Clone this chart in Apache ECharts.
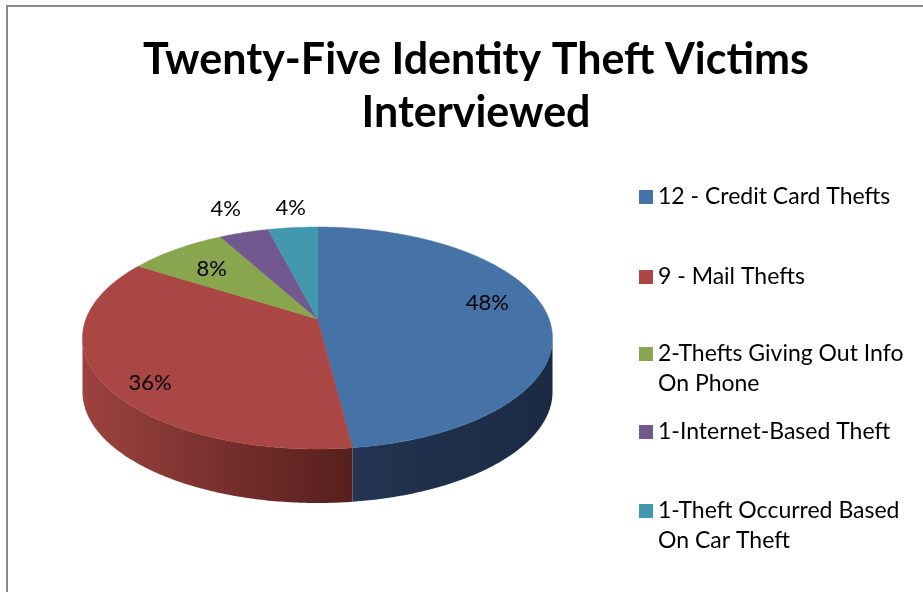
<!DOCTYPE html>
<html>
<head>
<meta charset="utf-8">
<script src="https://cdn.jsdelivr.net/npm/echarts@6/dist/echarts.min.js"></script>
<style>
  html, body { margin: 0; padding: 0; background: #ffffff; }
  #chart { width: 923px; height: 592px; }
</style>
</head>
<body>
<div id="chart"></div>
<script>
// Survey breakdown: number of victims per kind of identity theft
const categories = [
  '12 - Credit Card Thefts',
  '9 - Mail Thefts',
  '2-Thefts Giving Out Info\nOn Phone',
  '1-Internet-Based Theft',
  '1-Theft Occurred Based\nOn Car Theft'
];
const victims = [12, 9, 2, 1, 1];

// Face colours and side-wall shading (light edge -> dark edge)
const topColors = ['#4572A7', '#AA4643', '#89A54E', '#71588F', '#4198AF'];
const wallColors = [
  ['#223452', '#1B2A43'],
  ['#9C423F', '#561F1D'],
  ['#6E8A3A', '#4A5E25'],
  ['#5A4672', '#3C2F4D'],
  ['#357E92', '#245766']
];
// Small offsets applied to the percentage labels
const labelNudge = [[-2, -11], [-10, 17], [3, 4], [-3, -6], [3, -1]];

const FONT = 'Lato, "Open Sans", sans-serif';

// Tilted disc drawn with a perspective view
const disc = { cx: 317.5, cy: 338, rx: 235, ry: 111, tilt: 0.171, depth: 54 };

const total = victims.reduce((a, b) => a + b, 0);
const starts = [];
victims.reduce((acc, v, i) => { starts[i] = acc; return acc + v; }, 0);

// Map a point of the unit disc (u to the right, v toward the back) to the screen
function project(u, v) {
  const k = disc.tilt;
  const d = 1 + k * v;
  const X = u * Math.sqrt(1 - k * k) / d;
  const Y = (v + k) / d;
  return [disc.cx + X * disc.rx, disc.cy - Y * disc.ry];
}

// Points along the rim, angle measured clockwise from the back
function rimArc(a0, a1) {
  const n = Math.max(2, Math.ceil((a1 - a0) / 0.01));
  const pts = [];
  for (let j = 0; j <= n; j++) {
    const t = a0 + (a1 - a0) * j / n;
    pts.push(project(Math.sin(t), Math.cos(t)));
  }
  return pts;
}

function sliceRenderer(i) {
  return function (params, api) {
    const value = api.value(0);
    const a0 = starts[i] / total * Math.PI * 2;
    const a1 = a0 + value / total * Math.PI * 2;
    const children = [];

    // Front wall: the part of the rim lying below the widest line of the disc
    const visLo = Math.acos(-disc.tilt);
    const visHi = Math.PI * 2 - visLo;
    const s0 = Math.max(a0, visLo);
    const s1 = Math.min(a1, visHi);
    if (s1 > s0) {
      const upper = rimArc(s0, s1);
      const lower = upper.map(p => [p[0], p[1] + disc.depth]).reverse();
      children.push({
        type: 'polygon',
        shape: { points: upper.concat(lower) },
        style: {
          fill: new echarts.graphic.LinearGradient(0, 0, 1, 0, [
            { offset: 0, color: wallColors[i][0] },
            { offset: 1, color: wallColors[i][1] }
          ]),
          stroke: null
        }
      });
    }

    // Top face
    children.push({
      type: 'polygon',
      shape: { points: [project(0, 0)].concat(rimArc(a0, a1)) },
      style: { fill: topColors[i], stroke: topColors[i], lineWidth: 0.5 }
    });

    // Percentage label: inside large slices, outside small ones
    const share = value / total;
    const mid = (a0 + a1) / 2;
    const f = share >= 0.05 ? 0.75 : 1.25;
    const p = project(f * Math.sin(mid), f * Math.cos(mid));
    children.push({
      type: 'text',
      x: p[0] + labelNudge[i][0],
      y: p[1] + labelNudge[i][1],
      z2: 10,
      style: {
        text: Math.round(share * 100) + '%',
        fill: '#000000',
        font: '22px ' + FONT,
        align: 'center',
        verticalAlign: 'middle'
      }
    });

    return { type: 'group', children: children };
  };
}

const series = categories.map((name, i) => ({
  type: 'custom',
  name: name,
  coordinateSystem: 'none',
  itemStyle: { color: topColors[i] },
  renderItem: sliceRenderer(i),
  data: [[victims[i]]]
}));

// One legend block per entry; wrapped entries get an empty leading line so the
// swatch stays level with the first line of text
const legendTops = [182, 262, 309, 417, 466];
const legends = categories.map((name, i) => ({
  data: [name],
  left: 639,
  top: legendTops[i],
  padding: 0,
  icon: 'rect',
  itemWidth: 14,
  itemHeight: 14,
  selectedMode: false,
  formatter: n => (n.indexOf('\n') >= 0 ? '\n' + n : n),
  textStyle: {
    fontFamily: FONT,
    fontSize: 23,
    color: '#000000',
    lineHeight: 30
  }
}));

const chart = echarts.init(document.getElementById('chart'), null, { renderer: 'canvas' });
chart.setOption({
  animation: false,
  backgroundColor: '#ffffff',
  title: {
    text: 'Twenty-Five Identity Theft Victims\nInterviewed',
    left: 471,
    top: 29,
    textAlign: 'center',
    textStyle: {
      fontFamily: FONT,
      fontWeight: 'bold',
      fontSize: 43,
      lineHeight: 53,
      color: '#000000'
    }
  },
  legend: legends,
  graphic: [{
    type: 'rect',
    shape: { x: 7, y: 6, width: 940, height: 620 },
    style: { fill: null, stroke: '#8a8a8a', lineWidth: 2 },
    silent: true
  }],
  series: series
});
</script>
</body>
</html>
